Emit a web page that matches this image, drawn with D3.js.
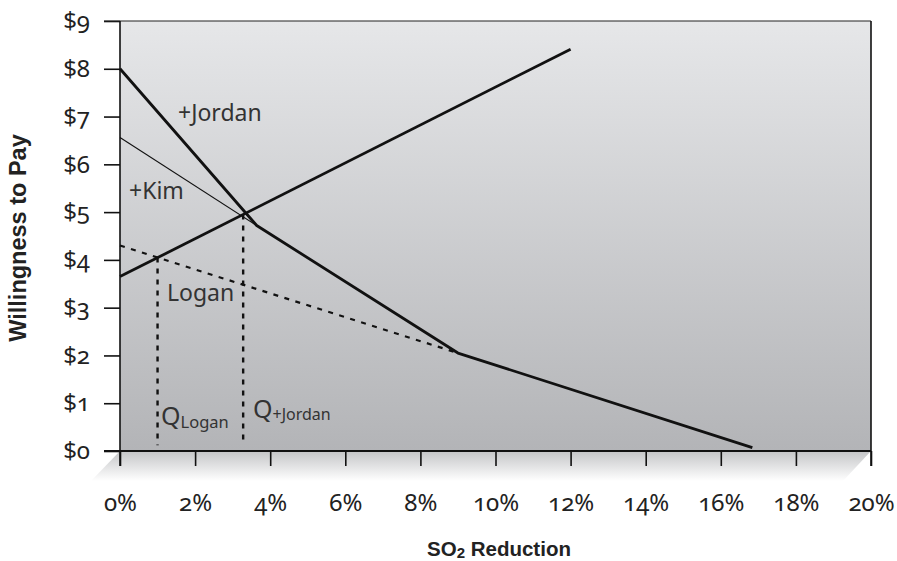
<!DOCTYPE html>
<html>
<head>
<meta charset="utf-8">
<script src="https://cdn.jsdelivr.net/npm/d3@7"></script>
<style>
  html, body { margin: 0; padding: 0; background: #fff; }
  svg { display: block; }
  .num { font-family: "Noto Sans", "Open Sans", sans-serif; font-variant-numeric: oldstyle-nums; font-feature-settings: "onum" 1; }
</style>
</head>
<body>
<svg id="chart" width="897" height="561"></svg>
<script>
// SO2 reduction (%) on x, willingness to pay ($) on y
const xTicks = [0, 2, 4, 6, 8, 10, 12, 14, 16, 18, 20];
const yTicks = [0, 1, 2, 3, 4, 5, 6, 7, 8, 9];

// Marginal cost (supply) line
const supply = [[0, 3.65], [12, 8.41]];
// Aggregate demand including Jordan (kinked)
const jordanTotal = [[0, 8], [3.64, 4.72], [9.0, 2.05], [16.84, 0.07]];
// Logan + Kim demand segment
const kimTotal = [[0, 6.56], [3.64, 4.72]];
// Logan's own demand
const logan = [[0, 4.3], [9.0, 2.05]];
// Quantity markers: [x, top value]
const qLogan = [1.0, 4.05];
const qJordan = [3.28, 4.95];

const svg = d3.select("#chart");
const L = 120, R = 871, T = 21, B = 451;
const x = d3.scaleLinear().domain([0, 20]).range([L, R]);
const y = d3.scaleLinear().domain([0, 9]).range([B, T]);

const defs = svg.append("defs");
const bg = defs.append("linearGradient").attr("id", "bg").attr("x1", 0).attr("y1", 0).attr("x2", 0).attr("y2", 1);
bg.append("stop").attr("offset", "0%").attr("stop-color", "#e6e7e9");
bg.append("stop").attr("offset", "100%").attr("stop-color", "#b3b4b7");
const fl = defs.append("linearGradient").attr("id", "floor").attr("x1", 0).attr("y1", 0).attr("x2", 0).attr("y2", 1);
fl.append("stop").attr("offset", "0%").attr("stop-color", "#c4c5c7");
fl.append("stop").attr("offset", "100%").attr("stop-color", "#ffffff");

// floor under the plot
svg.append("path")
  .attr("d", `M${L},${B} L${R},${B} L${R - 28},${B + 30} L${L - 29},${B + 30} Z`)
  .attr("fill", "url(#floor)");

// plot background
svg.append("rect").attr("x", L).attr("y", T).attr("width", R - L).attr("height", B - T)
  .attr("fill", "url(#bg)");

// y axis
const yAxis = svg.append("g").attr("transform", `translate(${L},0)`)
  .call(d3.axisLeft(y).tickValues(yTicks).tickSize(16).tickPadding(14).tickFormat(d => "$" + d));
yAxis.select(".domain").remove();
yAxis.selectAll(".tick line").attr("stroke", "#111").attr("stroke-width", 1.6);
yAxis.selectAll(".tick text").attr("class", "num").attr("font-size", 24).attr("fill", "#222");

// x axis
const xAxis = svg.append("g").attr("transform", `translate(0,${B})`)
  .call(d3.axisBottom(x).tickValues(xTicks).tickSize(15).tickPadding(28).tickFormat(d => d + "%"));
xAxis.select(".domain").remove();
xAxis.selectAll(".tick line").attr("stroke", "#111").attr("stroke-width", 1.6);
xAxis.selectAll(".tick text").attr("class", "num").attr("font-size", 24).attr("fill", "#222");

// plot frame
svg.append("line").attr("x1", L - 16).attr("x2", R).attr("y1", T).attr("y2", T).attr("stroke", "#222").attr("stroke-width", 1.2);
svg.append("line").attr("x1", L).attr("x2", L).attr("y1", T).attr("y2", B + 15).attr("stroke", "#111").attr("stroke-width", 1.6);
svg.append("line").attr("x1", R).attr("x2", R).attr("y1", T).attr("y2", B + 15).attr("stroke", "#111").attr("stroke-width", 1.6);
svg.append("line").attr("x1", L - 16).attr("x2", R).attr("y1", B).attr("y2", B).attr("stroke", "#111").attr("stroke-width", 2);

const line = d3.line().x(d => x(d[0])).y(d => y(d[1]));

// quantity markers
[qLogan, qJordan].forEach(q => {
  svg.append("line").attr("x1", x(q[0])).attr("x2", x(q[0]))
    .attr("y1", y(q[1])).attr("y2", y(0.12))
    .attr("stroke", "#111").attr("stroke-width", 2.4).attr("stroke-dasharray", "5,6");
});

svg.append("path").attr("d", line(logan)).attr("fill", "none")
  .attr("stroke", "#111").attr("stroke-width", 2.2).attr("stroke-dasharray", "5,6.5");
svg.append("path").attr("d", line(kimTotal)).attr("fill", "none")
  .attr("stroke", "#111").attr("stroke-width", 1.1);
svg.append("path").attr("d", line(jordanTotal)).attr("fill", "none")
  .attr("stroke", "#111").attr("stroke-width", 2.8).attr("stroke-linejoin", "round");
svg.append("path").attr("d", line(supply)).attr("fill", "none")
  .attr("stroke", "#111").attr("stroke-width", 2.8);

// curve labels
const lab = (tx, ty, s) => svg.append("text").attr("class", "num").attr("x", tx).attr("y", ty)
  .attr("font-size", 23).attr("fill", "#333").text(s);
lab(178, 121, "+Jordan");
lab(129, 199, "+Kim");
lab(167, 301, "Logan");

const q1 = svg.append("text").attr("class", "num").attr("x", 161).attr("y", 425).attr("font-size", 25).attr("fill", "#333");
q1.append("tspan").text("Q");
q1.append("tspan").attr("font-size", 16.5).attr("dy", 3).text("Logan");
const q2 = svg.append("text").attr("class", "num").attr("x", 253).attr("y", 418).attr("font-size", 25).attr("fill", "#333");
q2.append("tspan").text("Q");
q2.append("tspan").attr("font-size", 16).attr("dy", 1.5).text("+Jordan");

// axis titles
svg.append("text").attr("transform", "translate(26,238) rotate(-90)")
  .attr("text-anchor", "middle").attr("font-family", "Liberation Sans, Arial, sans-serif")
  .attr("font-weight", "bold").attr("font-size", 23.5).attr("fill", "#222").text("Willingness to Pay");
const xt = svg.append("text").attr("x", 499).attr("y", 556).attr("text-anchor", "middle")
  .attr("font-family", "Liberation Sans, Arial, sans-serif").attr("font-weight", "bold")
  .attr("font-size", 20.5).attr("fill", "#222");
xt.append("tspan").text("SO");
xt.append("tspan").attr("font-size", 15).attr("dy", 2).text("2");
xt.append("tspan").attr("dy", -2).text(" Reduction");
</script>
</body>
</html>
